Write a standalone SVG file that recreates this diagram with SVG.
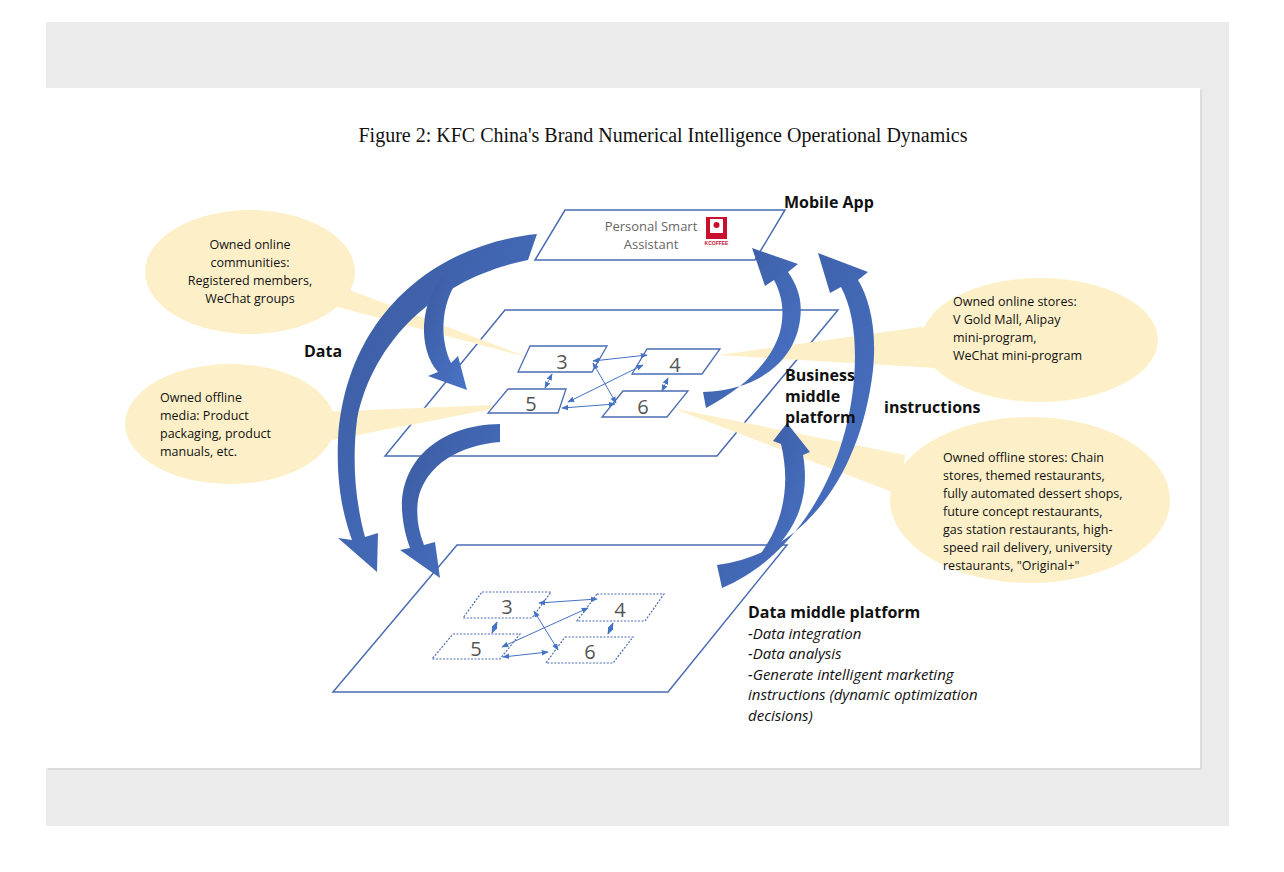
<svg xmlns="http://www.w3.org/2000/svg" width="1284" height="872" viewBox="0 0 1284 872">
<defs>
<style>
.plane{fill:#fff;stroke:#4a6cb3;stroke-width:1.5}
.box{fill:#fff;stroke:#4a6cb3;stroke-width:1.3}
.dbox{fill:#fff;stroke:#4a6cb3;stroke-width:1.2;stroke-dasharray:2 1.5}
.num{font-family:"Open Sans","Liberation Sans",sans-serif;font-size:20px;fill:#555;text-anchor:middle}
.call{fill:#fdf0c9}
.ct{font-family:"Open Sans","Liberation Sans",sans-serif;font-size:12.5px;fill:#111}
.lb{font-family:"Open Sans","Liberation Sans",sans-serif;font-size:16px;font-weight:bold;fill:#111}
.it{font-family:"Open Sans","Liberation Sans",sans-serif;font-size:15px;font-style:italic;fill:#111}
.con{stroke:#4472c4;stroke-width:1;fill:none;marker-start:url(#ah);marker-end:url(#ah)}
.arr{fill:url(#g)}
</style>
<marker id="ah" viewBox="0 0 10 10" refX="9" refY="5" markerWidth="7" markerHeight="7" orient="auto-start-reverse"><path d="M0,1 L10,5 L0,9 Z" fill="#4472c4"/></marker>
<linearGradient id="g" x1="0" y1="0" x2="1" y2="1"><stop offset="0" stop-color="#3a5a9e"/><stop offset="1" stop-color="#4a74c8"/></linearGradient>
</defs>
<rect width="1284" height="872" fill="#fff"/>
<rect x="46" y="22" width="1183" height="804" fill="#ebebeb"/>
<rect x="48" y="90" width="1154" height="680" fill="#dcdcdc"/>
<rect x="46" y="88" width="1154" height="680" fill="#fff"/>
<text x="663" y="142" font-family="Liberation Serif,serif" font-size="20" text-anchor="middle" fill="#111">Figure 2: KFC China's Brand Numerical Intelligence Operational Dynamics</text>

<g id="planes">
<g id="data-plane"><polygon class="plane" points="457,545 787,545 668,692 333,692"/></g>
<g id="business-plane"><polygon class="plane" points="505,310 838,310 717,456 385,456"/></g>
<g id="app-plane"><polygon class="plane" points="565,210 785,210 755,260 535,260"/>
<text x="651" y="231" font-family="Open Sans,Liberation Sans,sans-serif" font-size="13" fill="#666" text-anchor="middle">Personal Smart</text>
<text x="651" y="249" font-family="Open Sans,Liberation Sans,sans-serif" font-size="13" fill="#666" text-anchor="middle">Assistant</text>
<rect x="706" y="217" width="21" height="22" fill="#c8102e"/><rect x="710" y="219" width="13" height="14" fill="#fff"/><circle cx="716.5" cy="225" r="3" fill="#c8102e"/>
<text x="716.5" y="245" font-family="Liberation Sans,sans-serif" font-size="5" font-weight="bold" fill="#c8102e" text-anchor="middle">KCOFFEE</text>
</g>
</g>

<g id="callouts">
<g id="c1"><polygon class="call" points="318,278 330,305 530,358"/><ellipse class="call" cx="250" cy="272" rx="105" ry="62"/>
<text class="ct" text-anchor="middle"><tspan x="250" y="249">Owned online</tspan><tspan x="250" y="267">communities:</tspan><tspan x="250" y="285">Registered members,</tspan><tspan x="250" y="303">WeChat groups</tspan></text></g>
<g id="c2"><polygon class="call" points="320,412 322,442 518,404"/><ellipse class="call" cx="230" cy="424" rx="105" ry="60"/>
<text class="ct"><tspan x="160" y="402">Owned offline</tspan><tspan x="160" y="420">media: Product</tspan><tspan x="160" y="438">packaging, product</tspan><tspan x="160" y="456">manuals, etc.</tspan></text></g>
<g id="c3"><polygon class="call" points="935,325 935,368 718,355"/><ellipse class="call" cx="1040" cy="340" rx="118" ry="62"/>
<text class="ct"><tspan x="953" y="306">Owned online stores:</tspan><tspan x="953" y="324">V Gold Mall, Alipay</tspan><tspan x="953" y="342">mini-program,</tspan><tspan x="953" y="360">WeChat mini-program</tspan></text></g>
<g id="c4"><polygon class="call" points="905,455 900,495 672,408"/><ellipse class="call" cx="1030" cy="500" rx="140" ry="83"/>
<text class="ct"><tspan x="943" y="462">Owned offline stores: Chain</tspan><tspan x="943" y="480">stores, themed restaurants,</tspan><tspan x="943" y="498">fully automated dessert shops,</tspan><tspan x="943" y="516">future concept restaurants,</tspan><tspan x="943" y="534">gas station restaurants, high-</tspan><tspan x="943" y="552">speed rail delivery, university</tspan><tspan x="943" y="570">restaurants, "Original+"</tspan></text></g>
</g>

<g id="biz-nodes">
<g id="b3"><polygon class="box" points="530,346 607,346 592,372 518,372"/><text class="num" x="562" y="369">3</text></g>
<g id="b4"><polygon class="box" points="647,349 720,349 702,374 632,374"/><text class="num" x="675" y="372">4</text></g>
<g id="b5"><polygon class="box" points="508,389 566,389 558,413 488,413"/><text class="num" x="531" y="411">5</text></g>
<g id="b6"><polygon class="box" points="623,391 688,391 667,417 602,417"/><text class="num" x="643" y="414">6</text></g>
</g>
<g id="data-nodes">
<g id="d3"><polygon class="dbox" points="482,592 551,592 532,618 463,618"/><text class="num" x="507" y="614">3</text></g>
<g id="d4"><polygon class="dbox" points="597,594 664,594 645,621 577,621"/><text class="num" x="620" y="617">4</text></g>
<g id="d5"><polygon class="dbox" points="453,634 520,634 500,659 432,659"/><text class="num" x="476" y="656">5</text></g>
<g id="d6"><polygon class="dbox" points="565,637 633,637 613,663 546,663"/><text class="num" x="590" y="659">6</text></g>
</g>

<g id="connectors">
<line class="con" x1="593" y1="361" x2="647" y2="355"/>
<line class="con" x1="593" y1="363" x2="616" y2="403"/>
<line class="con" x1="643" y1="365" x2="568" y2="402"/>
<line class="con" x1="615" y1="404" x2="562" y2="408"/>
<line class="con" x1="552" y1="374" x2="545" y2="388" stroke-dasharray="2 1.5"/>
<line class="con" x1="668" y1="378" x2="662" y2="391" stroke-dasharray="2 1.5"/>
<line class="con" x1="539" y1="603" x2="597" y2="599"/>
<line class="con" x1="534" y1="611" x2="558" y2="650"/>
<line class="con" x1="588" y1="608" x2="502" y2="647"/>
<line class="con" x1="548" y1="652" x2="503" y2="657"/>
<line class="con" x1="497" y1="622" x2="492" y2="633" stroke-dasharray="2 1.5"/>
<line class="con" x1="613" y1="623" x2="608" y2="634" stroke-dasharray="2 1.5"/>
<path class="arr" d="M537 234 C430 245 345 320 338 440 C336 490 345 520 352 540 L338 538 L377 572 L378 533 L365 537 C355 500 352 460 357 420 C375 330 450 275 528 260 Z"/>
<path class="arr" d="M447 272 C418 300 418 350 438 372 L428 376 L467 390 L458 356 L451 363 C440 340 440 305 458 280 Z"/>
<path class="arr" d="M500 424 C440 425 400 460 402 510 C403 525 406 537 410 548 L400 550 L440 578 L435 542 L424 545 C418 530 416 515 418 500 C425 465 460 445 500 442 Z"/>
<path class="arr" d="M703 392 C760 390 795 360 800 320 C803 300 797 285 788 272 L798 264 L752 248 L765 286 L774 280 C782 295 785 312 780 332 C770 365 740 390 706 408 Z"/>
<path class="arr" d="M717 565 C800 555 860 480 873 370 C877 330 870 300 858 280 L868 272 L818 253 L830 293 L841 287 C853 310 857 340 854 380 C845 480 790 560 722 588 Z"/>
<path class="arr" d="M745 572 C790 545 812 505 803 455 L810 452 L787 423 L773 441 L781 444 C792 490 782 535 745 572 Z"/>
</g>

<g id="labels">
<text class="lb" x="784" y="208">Mobile App</text>
<text class="lb" x="304" y="357">Data</text>
<text class="lb"><tspan x="785" y="381">Business</tspan><tspan x="785" y="402">middle</tspan><tspan x="785" y="423">platform</tspan></text>
<text class="lb" x="884" y="413">instructions</text>
<text class="lb" x="748" y="618">Data middle platform</text>
<text class="it"><tspan x="748" y="639">-Data integration</tspan><tspan x="748" y="659">-Data analysis</tspan><tspan x="748" y="680">-Generate intelligent marketing</tspan><tspan x="748" y="700">instructions (dynamic optimization</tspan><tspan x="748" y="721">decisions)</tspan></text>
</g>
</svg>
